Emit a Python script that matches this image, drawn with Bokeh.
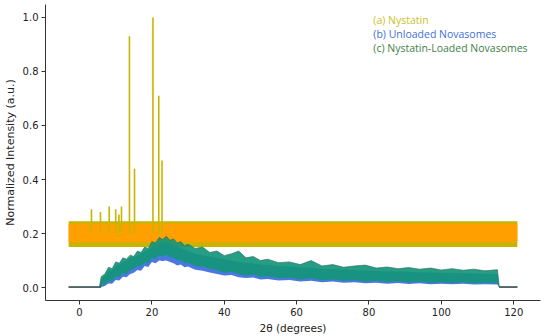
from bokeh.plotting import figure
from bokeh.models import Range1d, FixedTicker, Label
from bokeh.embed import file_html
from bokeh.resources import INLINE

# ---- data ----
# Nystatin: noisy band envelope plus sharp peaks
nys_x = [-3, 121]
nys_lo = [0.15, 0.15]
nys_hi = [0.245, 0.245]
nys_or_lo = [0.168, 0.168]
nys_or_hi = [0.236, 0.236]
peak_x = [3.3, 5.8, 8.2, 10.0, 10.9, 11.6, 13.8, 15.2, 20.3, 21.9, 22.8]
peak_y = [0.29, 0.28, 0.30, 0.29, 0.27, 0.30, 0.93, 0.44, 1.0, 0.71, 0.47]

# Unloaded / Nystatin-loaded novasomes: noise envelopes read along 2θ
prof_x = [-3, 5.5, 6, 7, 8, 9, 10, 11, 12, 13,
          14, 15, 16, 17, 18, 19, 20, 21, 22, 23,
          24, 25, 26, 27, 28, 29, 30, 32, 34, 36,
          38, 40, 42, 44, 46, 48, 50, 52, 55, 58,
          61, 64, 67, 70, 73, 76, 79, 82, 85, 88,
          91, 94, 97, 100, 103, 106, 109, 112, 115.5, 116,
          121]
nl_hi = [0.003, 0.003, 0.04, 0.05, 0.075, 0.07, 0.095, 0.09, 0.11, 0.105,
         0.12, 0.115, 0.135, 0.13, 0.15, 0.145, 0.17, 0.165, 0.185, 0.178,
         0.19, 0.175, 0.18, 0.165, 0.17, 0.155, 0.16, 0.145, 0.15, 0.13,
         0.135, 0.118, 0.125, 0.135, 0.11, 0.115, 0.1, 0.105, 0.092, 0.095,
         0.085, 0.1, 0.08, 0.085, 0.075, 0.08, 0.083, 0.072, 0.076, 0.07,
         0.074, 0.068, 0.072, 0.065, 0.07, 0.064, 0.068, 0.062, 0.066, 0.003,
         0.003]
nl_lo = [0, 0, 0.005, 0.012, 0.025, 0.022, 0.04, 0.038, 0.055, 0.05,
         0.065, 0.07, 0.08, 0.078, 0.095, 0.09, 0.11, 0.105, 0.12, 0.115,
         0.122, 0.112, 0.11, 0.1, 0.102, 0.09, 0.092, 0.08, 0.078, 0.07,
         0.065, 0.055, 0.058, 0.05, 0.045, 0.048, 0.04, 0.042, 0.035, 0.036,
         0.03, 0.034, 0.027, 0.03, 0.025, 0.027, 0.022, 0.025, 0.02, 0.024,
         0.019, 0.022, 0.018, 0.02, 0.017, 0.02, 0.016, 0.018, 0.016, 0,
         0]
ul_hi = [0.003, 0.003, 0.03, 0.045, 0.06, 0.065, 0.08, 0.085, 0.095, 0.1,
         0.11, 0.112, 0.12, 0.125, 0.135, 0.14, 0.15, 0.155, 0.16, 0.165,
         0.165, 0.16, 0.155, 0.15, 0.145, 0.14, 0.135, 0.125, 0.12, 0.115,
         0.11, 0.105, 0.1, 0.095, 0.092, 0.09, 0.085, 0.083, 0.08, 0.078,
         0.075, 0.073, 0.07, 0.068, 0.066, 0.065, 0.063, 0.062, 0.06, 0.059,
         0.058, 0.057, 0.056, 0.055, 0.054, 0.053, 0.052, 0.051, 0.05, 0.003,
         0.003]
ul_lo = [0, 0, 0.002, 0.006, 0.015, 0.014, 0.028, 0.026, 0.04, 0.038,
         0.05, 0.055, 0.065, 0.062, 0.08, 0.076, 0.095, 0.09, 0.1, 0.098,
         0.1, 0.095, 0.09, 0.082, 0.085, 0.075, 0.078, 0.066, 0.062, 0.056,
         0.05, 0.045, 0.046, 0.038, 0.035, 0.037, 0.03, 0.032, 0.026, 0.028,
         0.022, 0.025, 0.02, 0.022, 0.018, 0.02, 0.016, 0.018, 0.014, 0.017,
         0.013, 0.016, 0.012, 0.014, 0.012, 0.014, 0.011, 0.012, 0.011, 0,
         0]
base_x = [[-3, 6], [116, 121]]
base_y = [[0.0015, 0.0015], [0.0015, 0.0015]]

x_ticks = [0, 20, 40, 60, 80, 100, 120]
y_ticks = [0.0, 0.2, 0.4, 0.6, 0.8, 1.0]
x_title = "2θ (degrees)"
y_title = "Normalized Intensity (a.u.)"

legend_labels = ["(a) Nystatin", "(b) Unloaded Novasomes", "(c) Nystatin-Loaded Novasomes"]
legend_colors = ["#c9c21e", "#3f6fd6", "#3d7f45"]
legend_y = [0.989, 0.937, 0.886]

# ---- figure ----
p = figure(width=550, height=336, output_backend="svg", toolbar_location=None,
           x_range=Range1d(-9.4, 127.4), y_range=Range1d(-0.048, 1.048),
           min_border_left=43, min_border_right=10, min_border_top=4, min_border_bottom=35)
p.outline_line_color = None
p.grid.visible = False
p.background_fill_color = "white"

p.varea(x=nys_x, y1=nys_lo, y2=nys_hi, fill_color="#c8b400")
p.varea(x=nys_x, y1=nys_or_lo, y2=nys_or_hi, fill_color="#ffa000")
p.segment(x0=peak_x, y0=[0.2] * len(peak_x), x1=peak_x, y1=peak_y,
          line_color="#c8b400", line_width=1.6)

p.varea(x=prof_x, y1=ul_lo, y2=ul_hi, fill_color="#4a78e0")
p.varea(x=prof_x, y1=nl_lo, y2=nl_hi, fill_color="#14967a", fill_alpha=0.92)
p.line(x=prof_x, y=nl_hi, line_color="#2f6b5e", line_width=0.8, line_alpha=0.8)
p.multi_line(xs=base_x, ys=base_y, line_color="#505050", line_width=1.2)

for lab, col, yy in zip(legend_labels, legend_colors, legend_y):
    p.add_layout(Label(x=81.2, y=yy, text=lab, text_color=col, text_font="Open Sans",
                       text_font_size="10.5px", text_baseline="middle"))

for ax in (p.xaxis[0], p.yaxis[0]):
    ax.axis_line_color = "#333333"
    ax.major_tick_line_color = "#333333"
    ax.major_tick_out = 4
    ax.major_tick_in = 0
    ax.minor_tick_line_color = None
    ax.major_label_text_font = "DejaVu Sans"
    ax.major_label_text_font_size = "10px"
    ax.major_label_text_color = "#222222"
    ax.major_label_standoff = 3
    ax.axis_label_text_font = "DejaVu Sans"
    ax.axis_label_text_font_style = "normal"
    ax.axis_label_text_color = "#222222"
    ax.axis_label_standoff = 3

p.xaxis.axis_label_text_font_size = "10.5px"
p.yaxis.axis_label_text_font_size = "11px"
p.xaxis.ticker = FixedTicker(ticks=x_ticks)
p.yaxis.ticker = FixedTicker(ticks=y_ticks)
p.yaxis.major_label_overrides = {t: f"{t:.1f}" for t in y_ticks}
p.xaxis.axis_label = x_title
p.yaxis.axis_label = y_title

open("out.html", "w").write(file_html(p, INLINE))
